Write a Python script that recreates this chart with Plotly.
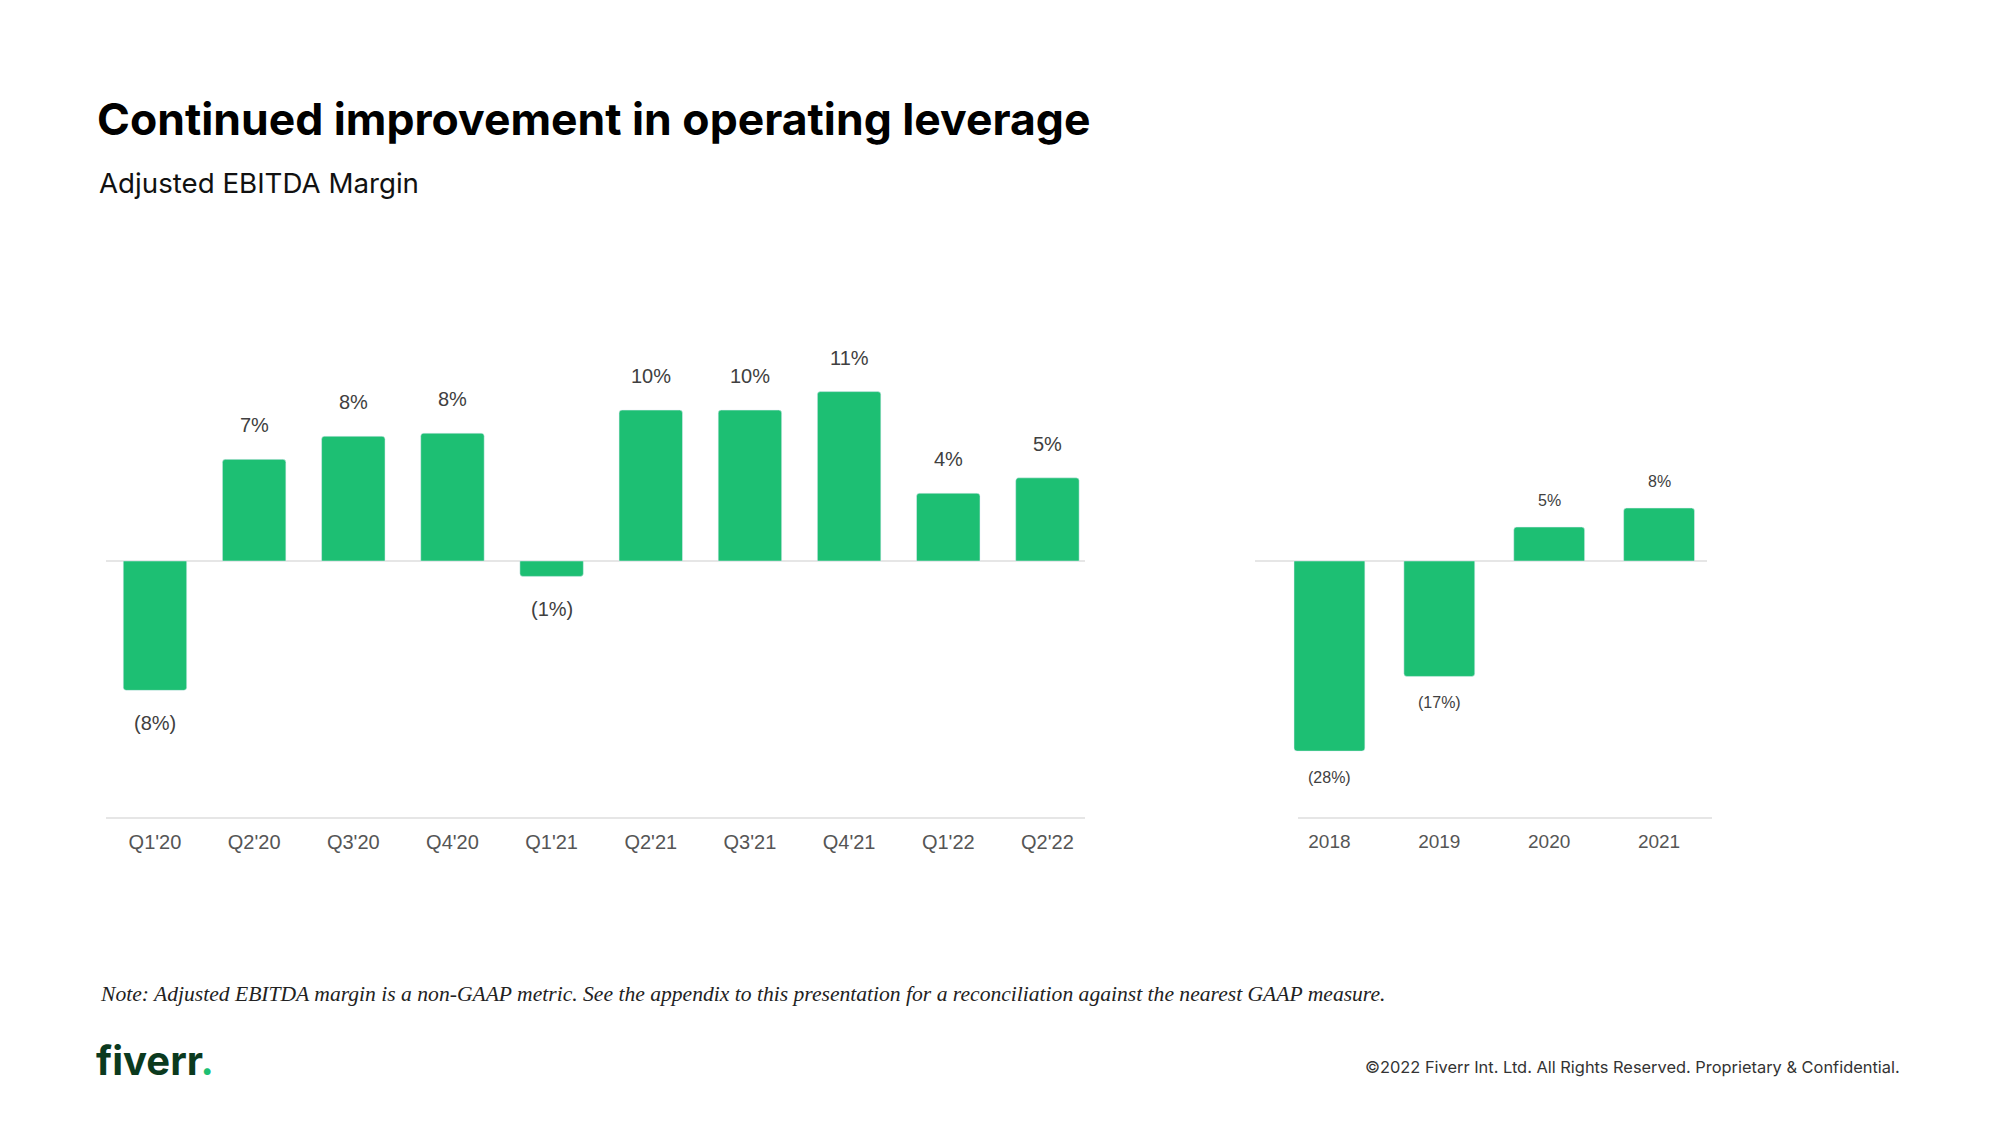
import plotly.graph_objects as go

# ---- data ----
quarters = ["Q1'20", "Q2'20", "Q3'20", "Q4'20", "Q1'21", "Q2'21", "Q3'21", "Q4'21", "Q1'22", "Q2'22"]
quarter_margin = [-8.4, 6.6, 8.1, 8.3, -1.0, 9.8, 9.8, 11.0, 4.4, 5.4]

years = ["2018", "2019", "2020", "2021"]
year_margin = [-28.0, -17.0, 5.0, 7.8]

title_text = "Continued improvement in operating leverage"
subtitle_text = "Adjusted EBITDA Margin"
note_text = ("Note: Adjusted EBITDA margin is a non-GAAP metric. See the appendix to this presentation "
             "for a reconciliation against the nearest GAAP measure.")
copyright_text = "©2022 Fiverr Int. Ltd. All Rights Reserved. Proprietary & Confidential."

GREEN = "#1dbf73"
LABEL = "#404040"
TICK = "#555555"
LINE = "#e6e6e6"
W, H = 2000, 1125


def fmt(v):
    r = round(abs(v))
    return f"({r}%)" if v < 0 else f"{r}%"


def px(xs):
    return xs / W


def py(ys):
    return 1 - ys / H


fig = go.Figure()
fig.add_trace(go.Bar(x=quarters, y=quarter_margin, marker_color=GREEN, width=0.64,
                     xaxis="x", yaxis="y", hoverinfo="x+y"))
fig.add_trace(go.Bar(x=years, y=year_margin, marker_color=GREEN, width=0.645,
                     xaxis="x2", yaxis="y2", hoverinfo="x+y"))

annotations = []
for i, v in enumerate(quarter_margin):
    annotations.append(dict(x=i, y=v, xref="x", yref="y", text=fmt(v), showarrow=False,
                            yshift=34 if v > 0 else -33,
                            font=dict(family="Liberation Sans, Arial", size=20, color=LABEL)))
for i, v in enumerate(year_margin):
    annotations.append(dict(x=i, y=v, xref="x2", yref="y2", text=fmt(v), showarrow=False,
                            yshift=27 if v > 0 else -26,
                            font=dict(family="Liberation Sans, Arial", size=16, color=LABEL)))

# slide texts
annotations += [
    dict(x=px(95), y=py(119), xref="paper", yref="paper", xanchor="left", yanchor="middle",
         text=f"<b>{title_text}</b>", showarrow=False,
         font=dict(family="Inter", size=44.5, color="#000000")),
    dict(x=px(97), y=py(183), xref="paper", yref="paper", xanchor="left", yanchor="middle",
         text=subtitle_text, showarrow=False,
         font=dict(family="Inter", size=27.7, color="#111111")),
    dict(x=px(98), y=py(994), xref="paper", yref="paper", xanchor="left", yanchor="middle",
         text=f"<i>{note_text}</i>", showarrow=False,
         font=dict(family="Liberation Serif", size=21.6, color="#222222")),
    dict(x=px(1902), y=py(1067), xref="paper", yref="paper", xanchor="right", yanchor="middle",
         text=copyright_text, showarrow=False,
         font=dict(family="Inter", size=16.4, color="#333333")),
    dict(x=px(94), y=py(1060), xref="paper", yref="paper", xanchor="left", yanchor="middle",
         text="<b>fiverr</b><span style='color:#1dbf73'><b>.</b></span>", showarrow=False,
         font=dict(family="Inter", size=40, color="#0b3a1e", weight=900)),
]

# baseline and bottom rules (styling only)
line_style = dict(color=LINE, width=2)
shapes = [
    dict(type="line", xref="paper", yref="y", x0=px(106), x1=px(1085), y0=0, y1=0,
         line=line_style, layer="below"),
    dict(type="line", xref="paper", yref="paper", x0=px(106), x1=px(1085), y0=py(818), y1=py(818),
         line=line_style, layer="below"),
    dict(type="line", xref="paper", yref="y2", x0=px(1255), x1=px(1707), y0=0, y1=0,
         line=line_style, layer="below"),
    dict(type="line", xref="paper", yref="paper", x0=px(1298), x1=px(1712), y0=py(818), y1=py(818),
         line=line_style, layer="below"),
]

y_bottom = py(818)
y_top = py(300)

axis_common = dict(showgrid=False, showticklabels=False, zeroline=False, fixedrange=True)

fig.update_layout(
    width=W, height=H,
    margin=dict(l=0, r=0, t=0, b=0),
    paper_bgcolor="white", plot_bgcolor="white",
    showlegend=False,
    barcornerradius=3,
    xaxis=dict(domain=[px(105.4), px(1097)], type="category", range=[-0.5, len(quarters) - 0.5],
               showgrid=False, showline=False, ticks="",
               tickfont=dict(family="Liberation Sans, Arial", size=20, color=TICK),
               ticklabelstandoff=10, anchor="y", fixedrange=True),
    yaxis=dict(domain=[y_bottom, y_top], range=[-(818 - 561) / 15.4, (561 - 300) / 15.4], anchor="x",
               **axis_common),
    xaxis2=dict(domain=[px(1274.5), px(1714)], type="category", range=[-0.5, len(years) - 0.5],
                showgrid=False, showline=False, ticks="",
                tickfont=dict(family="Liberation Sans, Arial", size=19, color=TICK),
                ticklabelstandoff=10, anchor="y2", fixedrange=True),
    yaxis2=dict(domain=[y_bottom, y_top], range=[-(818 - 561) / 6.79, (561 - 300) / 6.79], anchor="x2",
                **axis_common),
    annotations=annotations,
    shapes=shapes,
)

fig.write_html("out.html", config={"displayModeBar": False},
               post_script="document.body.style.margin='0';")
